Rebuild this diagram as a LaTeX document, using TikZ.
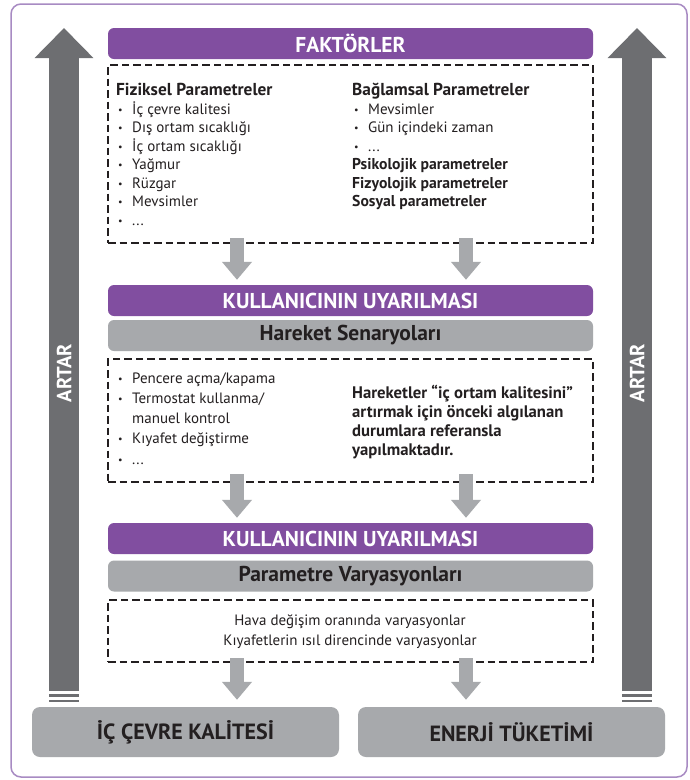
\documentclass[tikz,border=0pt]{standalone}
\usepackage{fontspec}
\setmainfont{PT Sans}
\usetikzlibrary{arrows.meta,calc}
\definecolor{purp}{HTML}{814EA0}
\definecolor{lgrey}{HTML}{A7A9AC}
\definecolor{dgrey}{HTML}{6D6E71}
\definecolor{framec}{HTML}{A88BC3}
\definecolor{txtc}{HTML}{231F20}
\newcommand\bl{\makebox[14pt][l]{\raisebox{1pt}{\fontsize{10}{10}\selectfont •}}}
\begin{document}
\begin{tikzpicture}[x=1pt,y=-1pt,
  pbar/.style={fill=purp, rounded corners=6pt, minimum width=485pt, minimum height=31pt, inner sep=0pt, text=white, font=\bfseries\fontsize{21.5}{21.5}\selectfont},
  gbar/.style={fill=lgrey, rounded corners=6pt, minimum width=485pt, minimum height=31pt, inner sep=0pt, text=txtc, font=\bfseries\fontsize{21.5}{21.5}\selectfont},
  bbox/.style={fill=lgrey, rounded corners=8pt, minimum width=307pt, minimum height=50pt, inner sep=0pt, text=txtc, font=\bfseries\fontsize{22}{22}\selectfont},
  dbox/.style={draw=txtc, line width=2pt, dash pattern=on 7.5pt off 4pt, minimum width=485pt, inner sep=0pt},
  tb/.style={inner sep=0pt, anchor=base west, text=txtc, font=\fontsize{15}{17}\selectfont},
  tbh/.style={tb, font=\bfseries\fontsize{17.3}{19}\selectfont},
  tbb/.style={tb, font=\bfseries\fontsize{15.7}{17}\selectfont},
  tbk/.style={tb, font=\bfseries\fontsize{16.7}{18}\selectfont},
  artar/.style={rotate=90, inner sep=0pt, text=white, font=\bfseries\fontsize{20.5}{20.5}\selectfont},
  bigarrow/.style={color=dgrey, line width=30pt, -{Triangle[width=57pt,length=30pt]}},
  garrow/.style={color=lgrey, line width=14pt, -{Triangle[width=29pt,length=18pt]}}
]
\useasboundingbox (0,0) rectangle (690,780);
\fill[white] (0,0) rectangle (690,780);
\draw[framec, line width=1.5pt, rounded corners=10pt] (11,4) rectangle (687,777);

% big side arrows
\coordinate (Lb) at (64,691); \coordinate (Lt) at (64,28);
\coordinate (Rb) at (637,691); \coordinate (Rt) at (637,28);
\draw[bigarrow] (Lb) -- (Lt);
\draw[bigarrow] (Rb) -- (Rt);
\fill[dgrey] (49,694) rectangle (79,696.5);
\fill[dgrey] (49,699.5) rectangle (79,701.5);
\fill[dgrey] (622,694) rectangle (652,696.5);
\fill[dgrey] (622,699.5) rectangle (652,701.5);
\node[artar] (al) at (64,373) {ARTAR};
\node[artar] (ar) at (637,373) {ARTAR};

% bars and boxes
\node[pbar] (fak) at (350.5,43.5) {FAKTÖRLER};
\node[dbox, minimum height=178pt] (b1) at (350.5,154) {};
\node[pbar] (ku1) at (350.5,300.5) {KULLANICININ UYARILMASI};
\node[gbar] (har) at (350.5,335.5) {Hareket Senaryoları};
\node[dbox, minimum height=123pt] (b2) at (350.5,420.5) {};
\node[pbar] (ku2) at (350.5,538.5) {KULLANICININ UYARILMASI};
\node[gbar] (par) at (350.5,576) {Parametre Varyasyonları};
\node[dbox, minimum height=62pt] (b3) at (350.5,631) {};
\node[bbox] (icq) at (185.5,732) {İÇ ÇEVRE KALİTESİ};
\node[bbox] (ene) at (511.5,732) {ENERJİ TÜKETİMİ};

% box 1 left column
\node[tbh] (f0) at (116,95.5) {Fiziksel Parametreler};
\node[tb] (f1) at (118,114) {\bl İç çevre kalitesi};
\node[tb] (f2) at (118,132.5) {\bl Dış ortam sıcaklığı};
\node[tb] (f3) at (118,151) {\bl İç ortam sıcaklığı};
\node[tb] (f4) at (118,169.5) {\bl Yağmur};
\node[tb] (f5) at (118,188) {\bl Rüzgar};
\node[tb] (f6) at (118,206.5) {\bl Mevsimler};
\node[tb] (f7) at (118,225) {\bl ...};
% box 1 right column
\node[tbh] (g0) at (352,95.5) {Bağlamsal Parametreler};
\node[tb] (g1) at (354,114) {\bl Mevsimler};
\node[tb] (g2) at (354,132.5) {\bl Gün içindeki zaman};
\node[tb] (g3) at (354,151) {\bl ...};
\node[tbb] (g4) at (352,169.5) {Psikolojik parametreler};
\node[tbb] (g5) at (352,188) {Fizyolojik parametreler};
\node[tbb] (g6) at (352,206.5) {Sosyal parametreler};

% box 2
\node[tb] (h1) at (118,383) {\bl Pencere açma/kapama};
\node[tb] (h2) at (118,403) {\bl Termostat kullanma/};
\node[tb] (h3) at (132,423.5) {manuel kontrol};
\node[tb] (h4) at (118,443.5) {\bl Kıyafet değiştirme};
\node[tb] (h5) at (118,464) {\bl ...};
\node[tbk] (k1) at (352,398) {Hareketler “iç ortam kalitesini”};
\node[tbk] (k2) at (352,417) {artırmak için önceki algılanan};
\node[tbk] (k3) at (352,436) {durumlara referansla};
\node[tbk] (k4) at (352,455) {yapılmaktadır.};

% box 3
\node[tb, anchor=base] (v1) at (350,625) {Hava değişim oranında varyasyonlar};
\node[tb, anchor=base] (v2) at (350,645) {Kıyafetlerin ısıl direncinde varyasyonlar};

% small arrows
\coordinate (cL) at (237,0); \coordinate (cR) at (466,0);
\draw[garrow] ($(b1.south -| cL)+(0,-6)$) -- ($(ku1.north -| cL)+(0,-5)$);
\draw[garrow] ($(b1.south -| cR)+(0,-6)$) -- ($(ku1.north -| cR)+(0,-5)$);
\draw[garrow] ($(b2.south -| cL)+(0,-9)$) -- ($(ku2.north -| cL)+(0,-5)$);
\draw[garrow] ($(b2.south -| cR)+(0,-9)$) -- ($(ku2.north -| cR)+(0,-5)$);
\draw[garrow] ($(b3.south -| cL)+(0,-5)$) -- ($(icq.north -| cL)+(0,-7)$);
\draw[garrow] ($(b3.south -| cR)+(0,-5)$) -- ($(ene.north -| cR)+(0,-7)$);
\end{tikzpicture}
\end{document}
